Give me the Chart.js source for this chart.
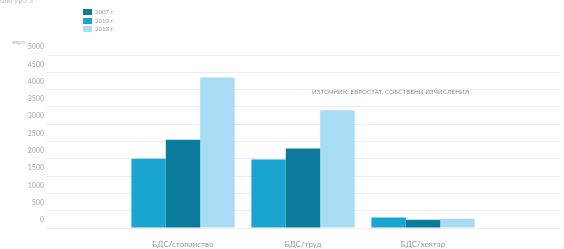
<!DOCTYPE html>
<html>
<head>
<meta charset="utf-8">
<script src="https://cdn.jsdelivr.net/npm/chart.js@4.4.1/dist/chart.umd.min.js"></script>
<style>
  html,body{margin:0;padding:0;background:#fff;}
  #wrap{position:relative;width:564px;height:249px;overflow:hidden;font-family:Lato,"Open Sans",sans-serif;}
  canvas{position:absolute;left:0;top:0;}
  .legend{position:absolute;left:83px;top:8px;font-size:6px;color:#9a9a9a;line-height:8.5px;}
  .legend div{display:flex;align-items:center;height:8.5px;}
  .legend span.sw{display:inline-block;width:9px;height:6px;margin-right:3px;}
  .unit{position:absolute;left:12px;top:38px;font-size:6px;color:#b5b5b5;}
  .top{position:absolute;left:0;top:-5px;font-size:8px;color:#c8c8c8;}
  .src{position:absolute;left:312px;top:88px;font-size:6.2px;color:#8d8d8d;letter-spacing:0.1px;white-space:nowrap;}
</style>
</head>
<body>
<div id="wrap">
  <canvas id="c" width="564" height="249"></canvas>
  <div class="top">Фигура 3</div>
  <div class="unit">евро</div>
  <div class="legend" id="legend"></div>
  <div class="src">ИЗТОЧНИК: ЕВРОСТАТ, СОБСТВЕНИ ИЗЧИСЛЕНИЯ</div>
</div>
<script>
const categories = ["БДС/стопанство", "БДС/труд", "БДС/хектар"];
const seriesNames = ["2007 г.", "2010 г.", "2013 г."];
const values2007 = [2000, 1980, 300];
const values2010 = [2550, 2300, 240];
const values2013 = [4350, 3400, 270];
const yTicks = [0, 500, 1000, 1500, 2000, 2500, 3000, 3500, 4000, 4500, 5000];

const barColors = ["#19a5cf", "#0b7b9b", "#a8dbf4"];
const legendColors = ["#0b7b9b", "#19a5cf", "#a8dbf4"];

const allSeries = [values2007, values2010, values2013];
const datasets = allSeries.map((vals, k) => ({
  label: seriesNames[k],
  data: categories.map((c, i) => ({ x: i + 1, y: vals[i] })),
  backgroundColor: barColors[k],
  borderWidth: 0,
  categoryPercentage: 0.86,
  barPercentage: 1.0
}));

const lg = document.getElementById('legend');
seriesNames.forEach((n, k) => {
  const d = document.createElement('div');
  d.innerHTML = '<span class="sw" style="background:' + legendColors[k] + '"></span>' + n;
  lg.appendChild(d);
});

new Chart(document.getElementById('c'), {
  type: 'bar',
  data: { datasets },
  options: {
    responsive: false,
    animation: false,
    devicePixelRatio: 1,
    layout: { padding: { top: 55, right: 4, left: 0, bottom: 0 } },
    plugins: { legend: { display: false }, tooltip: { enabled: false } },
    scales: {
      x: {
        type: 'linear',
        offset: false,
        min: -0.1333,
        max: 4.1417,
        grid: { display: false },
        border: { display: false },
        afterBuildTicks: (axis) => { axis.ticks = categories.map((c, i) => ({ value: i + 1 })); },
        afterFit: (s) => { s.height = 21; },
        ticks: {
          callback: (v) => categories[v - 1] || '',
          color: '#9a9a9a',
          font: { family: 'Lato', size: 8 },
          padding: 4,
          maxRotation: 0,
          autoSkip: false
        }
      },
      y: {
        min: 0,
        max: 5000,
        afterBuildTicks: (axis) => { axis.ticks = yTicks.map(v => ({ value: v })); },
        afterFit: (s) => { s.width = 47; },
        grid: { color: '#ededed', lineWidth: 1, drawTicks: false },
        border: { display: false },
        ticks: {
          callback: (v) => String(v),
          color: '#a5a5a5',
          font: { family: 'Lato', size: 7 },
          padding: 3,
          labelOffset: -8
        }
      }
    }
  }
});
</script>
</body>
</html>
